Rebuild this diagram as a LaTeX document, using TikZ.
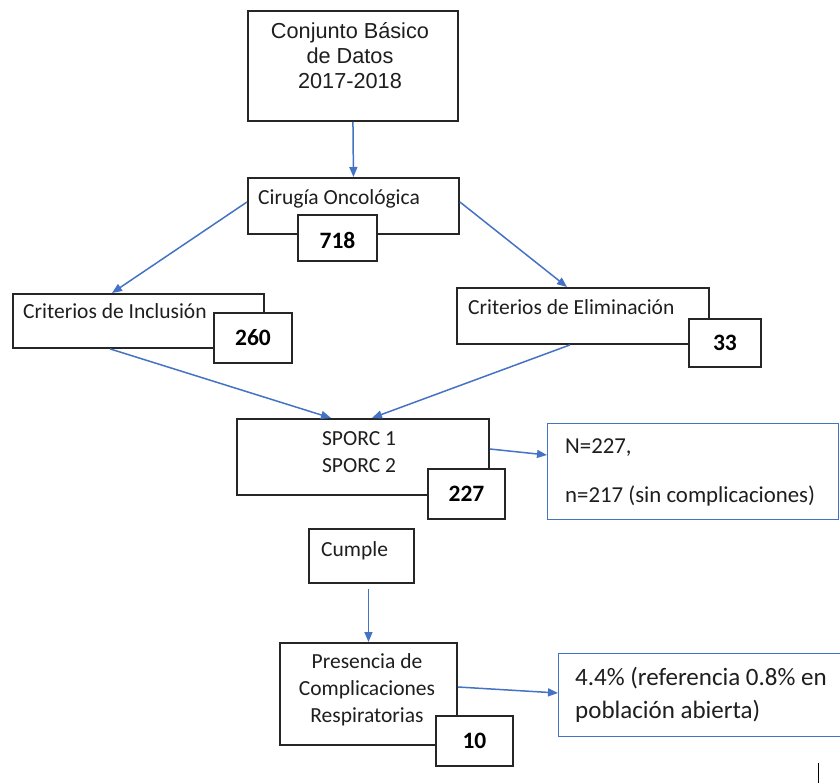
\documentclass[tikz,border=0pt]{standalone}
\usepackage{fontspec}
\setmainfont{Carlito}
\newfontfamily\arialfont{Liberation Sans}
\usetikzlibrary{arrows.meta,calc}
\definecolor{arrowblue}{HTML}{4472C4}
\definecolor{boxline}{HTML}{262626}
\definecolor{txt}{HTML}{1E1E1E}
\begin{document}
\begin{tikzpicture}[x=1pt,y=-1pt,
  box/.style={draw=boxline,line width=1.9pt,fill=white,rectangle,inner sep=0pt,anchor=north west},
  numbox/.style={box,font=\fontsize{23.5}{26}\selectfont\bfseries,text=black},
  bluebox/.style={draw=arrowblue,line width=1.3pt,fill=white,rectangle,inner sep=0pt,anchor=north west},
  conn/.style={draw=arrowblue,line width=1.5pt,-{Triangle[length=10pt,width=8pt]}},
  lbl/.style={font=\fontsize{21.5}{27}\selectfont,text=txt,inner sep=0pt},
  arlbl/.style={font=\arialfont\fontsize{21.7}{25}\selectfont,text=txt,inner sep=0pt,align=center},
  bluelbl/.style={font=\fontsize{22.8}{27}\selectfont,text=txt,inner sep=0pt,anchor=base west},
  biglbl/.style={font=\fontsize{25}{33}\selectfont,text=txt,inner sep=0pt,anchor=base west}
]
\useasboundingbox (0,0) rectangle (840,783);
\clip (0,0) rectangle (840,783);
% main boxes
\node[box,minimum width=210pt,minimum height=110pt] (top) at (247,10) {};
\node[box,minimum width=211pt,minimum height=56pt] (cir) at (247,177) {};
\node[box,minimum width=251pt,minimum height=54pt] (inc) at (12,293) {};
\node[box,minimum width=252pt,minimum height=56pt] (elim) at (456,287) {};
\node[box,minimum width=252pt,minimum height=76pt] (sporc) at (236,418) {};
\node[box,minimum width=105pt,minimum height=54pt] (cumple) at (308,528) {};
\node[box,minimum width=177pt,minimum height=102pt] (pres) at (279,642) {};
\node[bluebox,minimum width=291pt,minimum height=96pt] (nbox) at (547,423) {};
\node[bluebox,minimum width=300pt,minimum height=83pt] (pbox) at (558,653) {};
% number boxes
\node[numbox,minimum width=79pt,minimum height=46pt,text height=22pt,text depth=0pt] (n718) at (297,214) {718};
\node[numbox,minimum width=78pt,minimum height=50pt] (n260) at (213,312) {260};
\node[numbox,minimum width=72pt,minimum height=48pt] (n33) at (688,318) {33};
\node[numbox,minimum width=77pt,minimum height=50pt] (n227) at (427,468) {227};
\node[numbox,minimum width=77pt,minimum height=50pt] (n10) at (435,715) {10};
% texts
\node[arlbl] (toptxt) at (350,56) {Conjunto Básico\\de Datos\\2017-2018};
\node[lbl,anchor=base west] (cirtxt) at (258,205) {Cirugía Oncológica};
\node[lbl,anchor=base west] (inctxt) at (23,319) {Criterios de Inclusión};
\node[lbl,anchor=base west] (elimtxt) at (468,315) {Criterios de Eliminación};
\node[lbl,align=center] (sporctxt) at (359,452) {SPORC 1\\SPORC 2};
\node[lbl,anchor=base west] (cumpletxt) at (321,556) {Cumple};
\node[lbl,align=center] (prestxt) at (367,690) {Presencia de\\Complicaciones\\Respiratorias};
\node[bluelbl] (ntxt1) at (565,453) {N=227,};
\node[bluelbl] (ntxt2) at (565,502) {n=217 (sin complicaciones)};
\node[biglbl] (ptxt1) at (575,685) {4.4\% (referencia 0.8\% en};
\node[biglbl] (ptxt2) at (575,718) {población abierta)};
% connectors
\draw[conn] (top.south) -- (cir.north);
\draw[conn] ($(cir.north west)+(0,25)$) -- ($(inc.north west)+(100,0)$);
\draw[conn] ($(cir.north east)+(0,25)$) -- ($(elim.north west)+(111,0)$);
\draw[conn] ($(inc.south west)+(98,0)$) -- ($(sporc.north west)+(95,0)$);
\draw[conn] ($(elim.south west)+(114,0)$) -- ($(sporc.north west)+(136,0)$);
\draw[conn] ($(sporc.north east)+(0,31)$) -- ($(nbox.north west)+(0,32)$);
\draw[conn] ($(cumple.south -| pres.north)+(0,5)$) -- (pres.north);
\draw[conn] ($(pres.north east)+(0,45)$) -- ($(pbox.north west)+(0,40)$);
% stray mark
\coordinate (m1) at (818,763);
\coordinate (m2) at (818,783);
\draw[black,line width=1pt] (m1) -- (m2);
\end{tikzpicture}
\end{document}
